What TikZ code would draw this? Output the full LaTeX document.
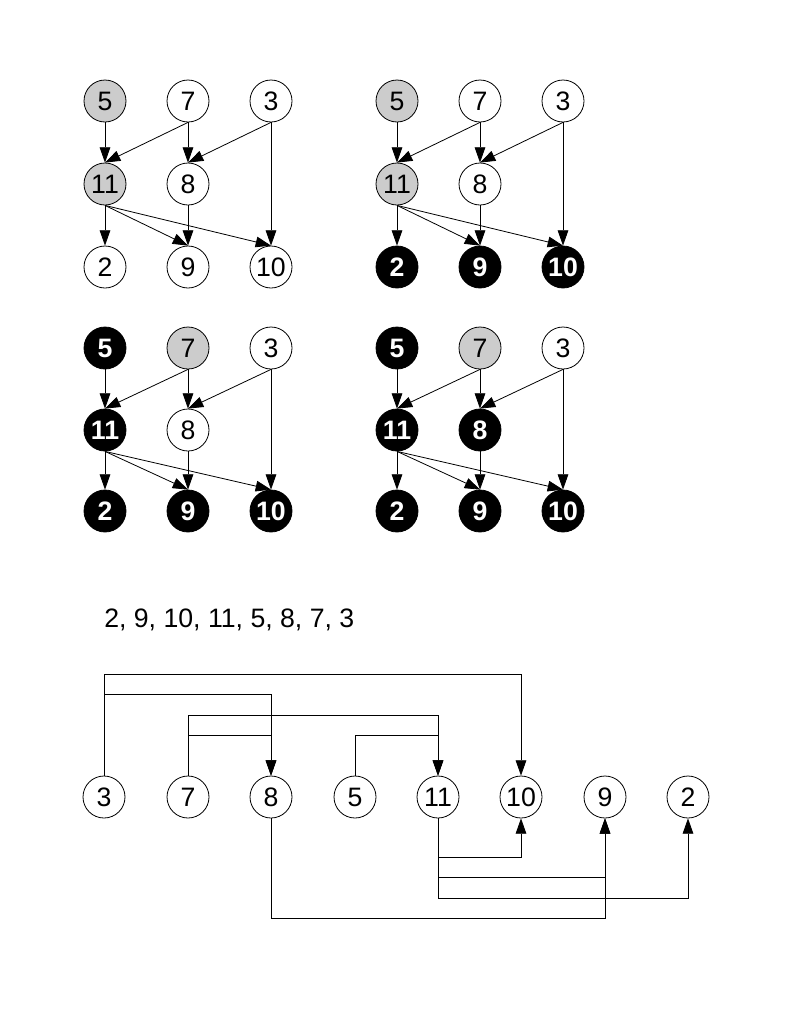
\documentclass[tikz,border=0pt]{standalone}
\usepackage{fontspec}
\setmainfont{Liberation Sans}
\usetikzlibrary{arrows.meta}

\tikzset{
  vtx/.style={circle, draw, line width=0.6pt, minimum size=31.5pt, inner sep=0pt,
              font=\fontsize{20}{20}\selectfont},
  wn/.style={vtx, fill=white},
  gn/.style={vtx, fill=black!20},
  bn/.style={vtx, fill=black, text=white, font=\fontsize{20}{20}\selectfont\bfseries},
  edge/.style={line width=0.6pt, -{Triangle[length=11.5pt,width=8pt]}},
}

% one panel of the DAG: #1 name prefix, #2 #3 #4 row heights;
% node styles come from the keys s2 ... s11
\newcommand\dagpanel[4]{%
  \node[s5]  (#1-5)  at (105,#2) {5};
  \node[s7]  (#1-7)  at (188,#2) {7};
  \node[s3]  (#1-3)  at (271,#2) {3};
  \node[s11] (#1-11) at (105,#3) {11};
  \node[s8]  (#1-8)  at (188,#3) {8};
  \node[s2]  (#1-2)  at (105,#4) {2};
  \node[s9]  (#1-9)  at (188,#4) {9};
  \node[s10] (#1-10) at (271,#4) {10};
  \draw[edge] (#1-5.south)  -- (#1-11.north);
  \draw[edge] (#1-7.south)  -- (#1-11.north);
  \draw[edge] (#1-7.south)  -- (#1-8.north);
  \draw[edge] (#1-3.south)  -- (#1-8.north);
  \draw[edge] (#1-3.south)  -- (#1-10.north);
  \draw[edge] (#1-11.south) -- (#1-2.north);
  \draw[edge] (#1-11.south) -- (#1-9.north);
  \draw[edge] (#1-11.south) -- (#1-10.north);
  \draw[edge] (#1-8.south)  -- (#1-9.north);
}

\begin{document}
\begin{tikzpicture}[x=0.75pt, y=-0.75pt]
\useasboundingbox (0,0) rectangle (794,1021);

% panel A: 5 and 11 grey
\begin{scope}[s5/.style=gn, s7/.style=wn, s3/.style=wn, s11/.style=gn,
              s8/.style=wn, s2/.style=wn, s9/.style=wn, s10/.style=wn]
  \dagpanel{a}{101}{184}{267}
\end{scope}

% panel B: leaves finished
\begin{scope}[shift={(292,0)},
              s5/.style=gn, s7/.style=wn, s3/.style=wn, s11/.style=gn,
              s8/.style=wn, s2/.style=bn, s9/.style=bn, s10/.style=bn]
  \dagpanel{b}{101}{184}{267}
\end{scope}

% panel C: 7 grey
\begin{scope}[s5/.style=bn, s7/.style=gn, s3/.style=wn, s11/.style=bn,
              s8/.style=wn, s2/.style=bn, s9/.style=bn, s10/.style=bn]
  \dagpanel{c}{348}{430}{511}
\end{scope}

% panel D: 8 finished
\begin{scope}[shift={(292,0)},
              s5/.style=bn, s7/.style=gn, s3/.style=wn, s11/.style=bn,
              s8/.style=bn, s2/.style=bn, s9/.style=bn, s10/.style=bn]
  \dagpanel{d}{348}{430}{511}
\end{scope}

% finishing order
\node[anchor=west, inner sep=0pt, font=\fontsize{20}{20}\selectfont] (order) at (104,620)
  {2, 9, 10, 11, 5, 8, 7, 3};

% topological order in a line
\node[wn] (t3)  at (104,797) {3};
\node[wn] (t7)  at (188,797) {7};
\node[wn] (t8)  at (271,797) {8};
\node[wn] (t5)  at (355,797) {5};
\node[wn] (t11) at (438,797) {11};
\node[wn] (t10) at (521,797) {10};
\node[wn] (t9)  at (605,797) {9};
\node[wn] (t2)  at (688,797) {2};

% edges routed above the line
\draw[edge] (t3.north) -- (t3.north |- 0,674) -- (t10.north |- 0,674) -- (t10.north);
\draw[edge] (t3.north) -- (t3.north |- 0,694) -- (t8.north |- 0,694) -- (t8.north);
\draw[edge] (t7.north) -- (t7.north |- 0,715) -- (t11.north |- 0,715) -- (t11.north);
\draw[edge] (t7.north) -- (t7.north |- 0,735) -- (t8.north |- 0,735) -- (t8.north);
\draw[edge] (t5.north) -- (t5.north |- 0,735) -- (t11.north |- 0,735) -- (t11.north);

% edges routed below the line
\draw[edge] (t11.south) -- (t11.south |- 0,857) -- (t10.south |- 0,857) -- (t10.south);
\draw[edge] (t11.south) -- (t11.south |- 0,877) -- (t9.south |- 0,877) -- (t9.south);
\draw[edge] (t11.south) -- (t11.south |- 0,898) -- (t2.south |- 0,898) -- (t2.south);
\draw[edge] (t8.south) -- (t8.south |- 0,918) -- (t9.south |- 0,918) -- (t9.south);
\end{tikzpicture}
\end{document}
